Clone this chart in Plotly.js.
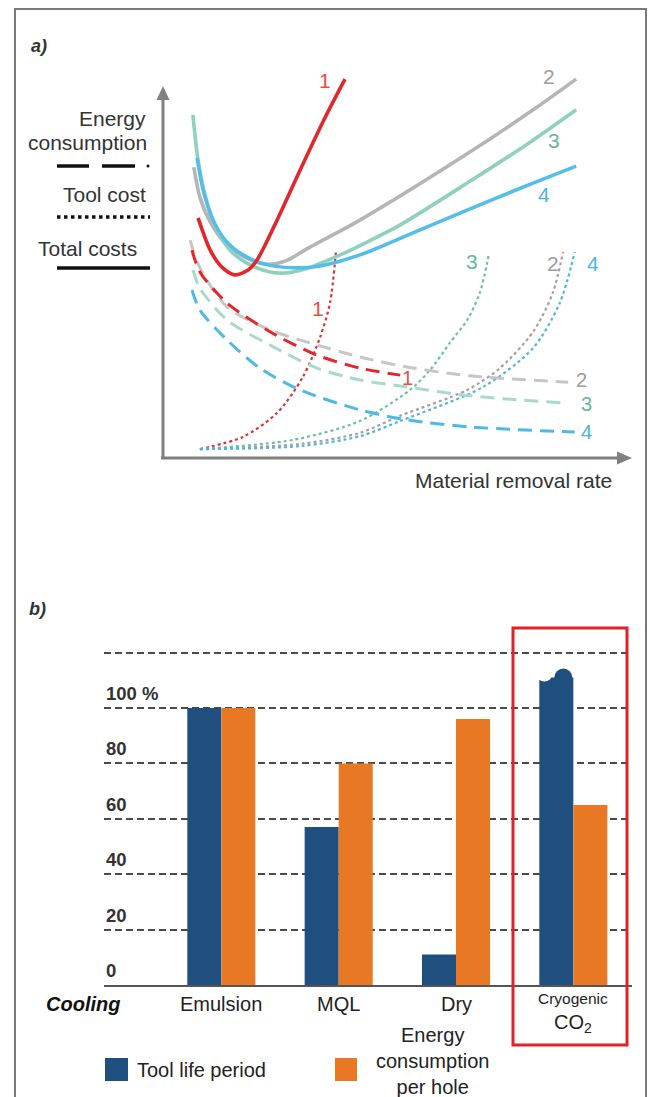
<!DOCTYPE html>
<html>
<head>
<meta charset="utf-8">
<script src="https://cdn.plot.ly/plotly-3.0.1.min.js"></script>
<style>
html,body{margin:0;padding:0;background:#fff;}
#chart{width:649px;height:1097px;}
</style>
</head>
<body>
<div id="chart"></div>
<script>
// ---------- Panel a: curves (arbitrary units, x: material removal rate, y: cost) ----------
const totX1 = [7.7, 10.3, 12.8, 15.6, 18.4, 20.3, 24.1, 29.5, 34.8, 39.1];
const totY1 = [64.9, 56.2, 51.6, 49.5, 50.8, 53.5, 63.0, 77.8, 91.9, 102.4];
const totX2 = [6.8, 8.1, 10.3, 13.5, 17.7, 22.0, 26.3, 31.6, 42.3, 65.2, 79.3, 88.5];
const totY2 = [78.6, 70.5, 63.8, 58.1, 54.3, 52.4, 53.2, 57.0, 64.3, 82.2, 94.1, 102.4];
const totX3 = [6.6, 7.7, 9.2, 11.3, 14.5, 18.8, 23.1, 26.3, 30.6, 37.0, 43.4, 50.9, 65.2, 79.3, 88.5];
const totY3 = [92.7, 80.5, 71.1, 63.0, 56.2, 52.2, 50.3, 50.0, 51.1, 54.3, 58.1, 63.0, 74.3, 85.9, 94.1];
const totX4 = [7.5, 8.8, 10.7, 13.5, 17.3, 22.0, 28.0, 33.8, 42.3, 53.0, 65.2, 79.3, 88.5];
const totY4 = [81.1, 72.4, 64.9, 58.9, 54.9, 52.4, 51.4, 51.9, 54.9, 60.5, 67.0, 74.3, 78.9];

const enX1 = [6.4, 8.1, 13.9, 23.1, 33.1, 42.3, 50.9];
const enY1 = [56.2, 50.3, 41.9, 34.1, 27.8, 24.3, 22.4];
const enX2 = [6.0, 8.1, 13.9, 23.1, 31.6, 42.3, 52.4, 65.8, 86.8];
const enY2 = [58.9, 51.4, 40.8, 34.6, 31.1, 27.3, 24.6, 22.2, 20.5];
const enX3 = [6.6, 8.1, 13.9, 23.1, 33.1, 42.3, 52.4, 65.8, 85.7];
const enY3 = [50.8, 45.9, 37.3, 30.5, 24.3, 21.1, 19.2, 16.8, 14.9];
const enX4 = [6.4, 8.1, 13.9, 20.9, 29.5, 42.3, 52.4, 65.8, 88.2];
const enY4 = [45.4, 40.0, 31.9, 24.3, 18.4, 13.0, 10.3, 8.4, 7.0];

const toolX1 = [8.1, 17.3, 24.6, 30.1, 33.8, 35.9, 37.2];
const toolY1 = [2.4, 5.7, 12.2, 21.9, 32.7, 41.9, 56.2];
const toolX2 = [8.1, 29.5, 42.3, 50.9, 65.2, 72.2, 79.3, 83.5, 85.7];
const toolY2 = [2.4, 3.8, 6.8, 11.4, 18.4, 24.3, 34.1, 44.6, 55.7];
const toolX3 = [8.1, 28.0, 42.3, 53.0, 57.3, 61.5, 65.2, 67.9, 69.9];
const toolY3 = [2.4, 4.9, 10.0, 18.4, 23.8, 31.1, 37.3, 44.6, 55.4];
const toolX4 = [8.1, 29.5, 42.3, 50.9, 68.6, 79.3, 85.0, 88.2];
const toolY4 = [2.4, 3.2, 5.9, 10.0, 19.2, 29.7, 41.9, 55.7];

const curveLabels = ['1', '2', '3', '4'];
const totLabelX = [34.8, 82.7, 83.8, 81.6];
const totLabelY = [101.9, 103.0, 85.9, 71.1];
const enLabelX = [52.4, 89.7, 90.6, 90.6];
const enLabelY = [21.6, 21.2, 14.7, 7.0];
const toolLabelX = [33.3, 83.5, 66.2, 92.1];
const toolLabelY = [40.5, 52.7, 53.0, 52.7];

// ---------- Panel b: bars ----------
const cats = ['Emulsion', 'MQL', 'Dry', 'Cryogenic CO2'];
const toolLife = [100, 57, 11, 111];
const energyHole = [100, 80, 96, 65];
const yTicks = [0, 20, 40, 60, 80, 100];
const yTickLabels = ['0', '20', '40', '60', '80', '100 %'];
const gridVals = [20, 40, 60, 80, 100, 120];

// ---------- styling ----------
const W = 649, H = 1097;
const PX = x => x / W;
const PY = y => 1 - y / H;
const FONT = 'Liberation Sans, Arial, sans-serif';
const red = '#e3262b';
const solidCol = [red, '#b5b5b5', '#8fd1bd', '#55bde9'];
const dashCol = [red, '#c6c6c6', '#a9d9c9', '#4fb9e6'];
const dotCol = ['#d9343a', '#a89e9e', '#6cbfa6', '#4fb3e3'];
const labCol = ['#e5513f', '#9c9c9c', '#5fb996', '#47b4e6'];
const navy = '#1e4f7e', orange = '#e97825';
const SM = 0.8;

const traces = [];
const totX = [totX1, totX2, totX3, totX4], totY = [totY1, totY2, totY3, totY4];
const enX = [enX1, enX2, enX3, enX4], enY = [enY1, enY2, enY3, enY4];
const toolX = [toolX1, toolX2, toolX3, toolX4], toolY = [toolY1, toolY2, toolY3, toolY4];
// draw order: dotted, dashed, solid
for (let i = 0; i < 4; i++) {
  traces.push({x: toolX[i], y: toolY[i], mode: 'lines', xaxis: 'x', yaxis: 'y', hoverinfo: 'skip', showlegend: false,
    line: {color: dotCol[i], width: 2.2, dash: 'dot', shape: 'spline', smoothing: SM}});
}
const dashOrder = [1, 2, 3, 0];
for (const i of dashOrder) {
  traces.push({x: enX[i], y: enY[i], mode: 'lines', xaxis: 'x', yaxis: 'y', hoverinfo: 'skip', showlegend: false,
    line: {color: dashCol[i], width: 3, dash: '14px,8px', shape: 'spline', smoothing: SM}});
}
const solidOrder = [1, 2, 3, 0];
for (const i of solidOrder) {
  traces.push({x: totX[i], y: totY[i], mode: 'lines', xaxis: 'x', yaxis: 'y', hoverinfo: 'skip', showlegend: false,
    line: {color: solidCol[i], width: 3.6, shape: 'spline', smoothing: SM}});
}
// bars
traces.push({type: 'bar', x: cats, y: toolLife, name: 'Tool life period', xaxis: 'x2', yaxis: 'y2',
  marker: {color: navy, line: {width: 0}}, showlegend: false, hoverinfo: 'skip'});
traces.push({type: 'bar', x: cats, y: energyHole, name: 'Energy consumption per hole', xaxis: 'x2', yaxis: 'y2',
  marker: {color: orange, line: {width: 0}}, showlegend: false, hoverinfo: 'skip'});

const annotations = [];
const txt = (text, x, y, size, opts = {}) => Object.assign({
  text, x: PX(x), y: PY(y), xref: 'paper', yref: 'paper', showarrow: false,
  font: {family: FONT, size, color: '#333'}, xanchor: 'left', yanchor: 'middle'
}, opts);

annotations.push(txt('<b><i>a)</i></b>', 29, 46, 18));
annotations.push(txt('<b><i>b)</i></b>', 27, 609, 18));
annotations.push(txt('Energy', 148, 118, 21, {xanchor: 'right'}));
annotations.push(txt('consumption', 149, 143, 21, {xanchor: 'right'}));
annotations.push(txt('Tool cost', 148, 195, 21, {xanchor: 'right'}));
annotations.push(txt('Total costs', 139, 248, 21, {xanchor: 'right'}));
annotations.push(txt('Material removal rate', 614, 481, 21, {xanchor: 'right'}));

for (let i = 0; i < 4; i++) {
  annotations.push({text: curveLabels[i], x: totLabelX[i], y: totLabelY[i], xref: 'x', yref: 'y', showarrow: false,
    font: {family: FONT, size: 21, color: labCol[i]}});
  annotations.push({text: curveLabels[i], x: enLabelX[i], y: enLabelY[i], xref: 'x', yref: 'y', showarrow: false,
    font: {family: FONT, size: 20, color: labCol[i]}});
  annotations.push({text: curveLabels[i], x: toolLabelX[i], y: toolLabelY[i], xref: 'x', yref: 'y', showarrow: false,
    font: {family: FONT, size: 21, color: labCol[i]}});
}

// panel b tick labels
for (let i = 0; i < yTicks.length; i++) {
  annotations.push({text: '<b>' + yTickLabels[i] + '</b>', x: PX(104), y: yTicks[i], xref: 'paper', yref: 'y2',
    xanchor: 'left', yanchor: 'bottom', yshift: 2, showarrow: false, font: {family: FONT, size: 18.5, color: '#333'}});
}
// category labels
for (let i = 0; i < 3; i++) {
  annotations.push({text: cats[i], x: cats[i], y: PY(1004), xref: 'x2', yref: 'paper', showarrow: false,
    yanchor: 'middle', font: {family: FONT, size: 20, color: '#222'}});
}
annotations.push({text: cats[3].split(' ')[0], x: cats[3], y: PY(998), xref: 'x2', yref: 'paper', showarrow: false,
  yanchor: 'middle', font: {family: FONT, size: 15.5, color: '#222'}});
annotations.push({text: 'CO<sub>2</sub>', x: cats[3], y: PY(1023), xref: 'x2', yref: 'paper', showarrow: false,
  yanchor: 'middle', font: {family: FONT, size: 20, color: '#222'}});
annotations.push(txt('<b><i>Cooling</i></b>', 44, 1004, 20, {font: {family: FONT, size: 20, color: '#111'}}));
// legend texts
annotations.push(txt('Tool life period', 135, 1070, 20, {font: {family: FONT, size: 20, color: '#222'}}));
annotations.push(txt('Energy<br>consumption<br>per hole', 432, 1061, 20,
  {xanchor: 'center', align: 'center', font: {family: FONT, size: 20, color: '#222'}}));

const shapes = [];
const pline = (x0, y0, x1, y1, color, width, dash) => ({type: 'line', xref: 'paper', yref: 'paper',
  x0: PX(x0), y0: PY(y0), x1: PX(x1), y1: PY(y1), line: {color, width, dash: dash || 'solid'}});
// outer frame
shapes.push({type: 'rect', xref: 'paper', yref: 'paper', x0: PX(15), y0: PY(1105), x1: PX(646), y1: PY(9),
  line: {color: '#7a7a7a', width: 2}});
// panel a axes with arrows
const axCol = '#808080';
shapes.push(pline(163, 459, 163, 98, axCol, 3));
shapes.push(pline(161, 458, 619, 458, axCol, 3));
shapes.push({type: 'path', xref: 'paper', yref: 'paper', fillcolor: axCol, line: {width: 0},
  path: `M ${PX(163)},${PY(86)} L ${PX(169.5)},${PY(100)} L ${PX(156.5)},${PY(100)} Z`});
shapes.push({type: 'path', xref: 'paper', yref: 'paper', fillcolor: axCol, line: {width: 0},
  path: `M ${PX(632)},${PY(458)} L ${PX(617)},${PY(451.5)} L ${PX(617)},${PY(464.5)} Z`});
// left-hand key for line styles
shapes.push(pline(57, 166, 89, 166, '#111', 3.5));
shapes.push(pline(102, 166, 135, 166, '#111', 3.5));
shapes.push({type: 'circle', xref: 'paper', yref: 'paper', x0: PX(146.5), x1: PX(149.5), y0: PY(164.5), y1: PY(167.5),
  fillcolor: '#111', line: {width: 0}});
shapes.push(pline(57, 217, 150, 217, '#111', 3.5, 'dot'));
shapes.push(pline(57, 268, 150, 268, '#111', 3.5));
// cryogenic bar top (bump + notch), anchored to bar data
const barW = 0.29; // each bar width in category units
const cryoX = 3 - barW / 2;
shapes.push({type: 'circle', xref: 'x2', yref: 'y2', xsizemode: 'pixel', ysizemode: 'pixel',
  xanchor: cryoX, yanchor: toolLife[3], x0: -2, x1: 16, y0: -9, y1: 9, fillcolor: navy, line: {width: 0}});
shapes.push({type: 'circle', xref: 'x2', yref: 'y2', xsizemode: 'pixel', ysizemode: 'pixel',
  xanchor: cryoX, yanchor: toolLife[3], x0: -20, x1: -4, y0: -4, y1: 12, fillcolor: '#ffffff', line: {width: 0}});
// red highlight box
shapes.push({type: 'rect', xref: 'paper', yref: 'paper', x0: PX(513), x1: PX(627), y0: PY(1045), y1: PY(628),
  line: {color: '#e0202a', width: 3}});
// legend squares
shapes.push({type: 'rect', xref: 'paper', yref: 'paper', x0: PX(105), x1: PX(128), y0: PY(1081), y1: PY(1058),
  fillcolor: navy, line: {width: 0}});
shapes.push({type: 'rect', xref: 'paper', yref: 'paper', x0: PX(335), x1: PX(357), y0: PY(1081), y1: PY(1058),
  fillcolor: orange, line: {width: 0}});

const pxPerUnit = (985 - 708) / 100;
const layout = {
  width: W, height: H, margin: {l: 0, r: 0, t: 0, b: 0},
  paper_bgcolor: '#fff', plot_bgcolor: 'rgba(0,0,0,0)',
  font: {family: FONT},
  showlegend: false,
  xaxis: {domain: [PX(162), PX(630)], range: [0, 100], visible: false, fixedrange: true},
  yaxis: {domain: [PY(458), PY(51)], range: [0, 110], visible: false, fixedrange: true},
  xaxis2: {domain: [PX(104), PX(632)], anchor: 'y2', type: 'category', categoryarray: cats, range: [-1, 3.5],
    showticklabels: false, ticks: '', showgrid: false, zeroline: false,
    showline: true, linecolor: '#555', linewidth: 2},
  yaxis2: {domain: [PY(985), PY(985 - 122 * pxPerUnit)], anchor: 'x2', range: [0, 122],
    tickvals: gridVals, showticklabels: false, ticks: '', showgrid: true, gridcolor: '#4a4a4a', gridwidth: 2,
    griddash: '7px,4px', zeroline: false, showline: false},
  barmode: 'group', bargap: 0.42, bargroupgap: 0,
  annotations, shapes
};
Plotly.newPlot('chart', traces, layout, {staticPlot: true, displayModeBar: false});
</script>
</body>
</html>
